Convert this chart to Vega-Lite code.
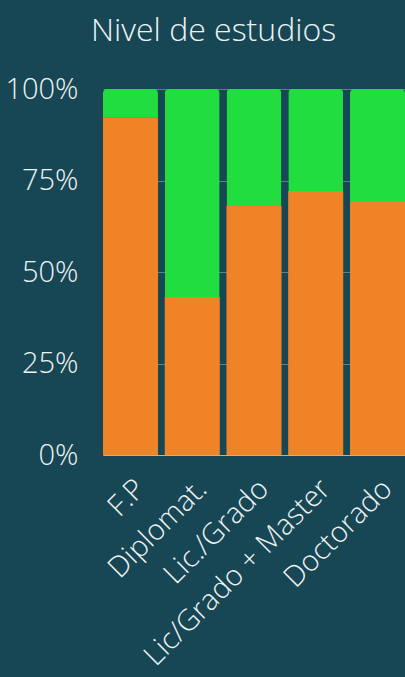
{
  "$schema": "https://vega.github.io/schema/vega-lite/v6.json",
  "autosize": "none",
  "width": 302,
  "height": 366,
  "padding": {"left": 103, "top": 89, "right": 0, "bottom": 222},
  "background": "#174654",
  "title": {
    "text": "Nivel de estudios",
    "anchor": "start",
    "frame": "group",
    "dx": -12,
    "offset": 27,
    "font": "Open Sans",
    "fontSize": 32,
    "fontWeight": 300,
    "color": "#eef3f3"
  },
  "config": {
    "view": {"stroke": null},
    "font": "Open Sans"
  },
  "data": {
    "values": [
      {"nivel": "F.P", "serie": "A", "valor": 92.2},
      {"nivel": "F.P", "serie": "B", "valor": 7.8},
      {"nivel": "Diplomat.", "serie": "A", "valor": 43.2},
      {"nivel": "Diplomat.", "serie": "B", "valor": 56.8},
      {"nivel": "Lic./Grado", "serie": "A", "valor": 68.0},
      {"nivel": "Lic./Grado", "serie": "B", "valor": 32.0},
      {"nivel": "Lic/Grado + Master", "serie": "A", "valor": 72.1},
      {"nivel": "Lic/Grado + Master", "serie": "B", "valor": 27.9},
      {"nivel": "Doctorado", "serie": "A", "valor": 69.1},
      {"nivel": "Doctorado", "serie": "B", "valor": 30.9}
    ]
  },
  "encoding": {
    "x": {
      "field": "nivel",
      "type": "nominal",
      "sort": null,
      "scale": {"paddingInner": 0.11, "paddingOuter": 0},
      "axis": {
        "title": null,
        "labelAngle": -45,
        "labelAlign": "right",
        "labelBaseline": "top",
        "labelFont": "Open Sans",
        "labelFontSize": 29,
        "labelFontWeight": 300,
        "labelColor": "#eef3f3",
        "labelPadding": 19,
        "labelLimit": 0,
        "ticks": false,
        "domain": true,
        "domainColor": "#7fc7d6",
        "domainWidth": 1,
        "labelOverlap": false,
        "labelBound": false
      }
    }
  },
  "layer": [
    {
      "mark": {"type": "bar", "cornerRadiusTopLeft": 4, "cornerRadiusTopRight": 4},
      "encoding": {
        "y": {
          "field": "valor",
          "type": "quantitative",
          "stack": "zero",
          "scale": {"domain": [0, 100]},
          "axis": {
            "title": null,
            "values": [0, 25, 50, 75, 100],
            "labelExpr": "datum.value + '%'",
            "labelFont": "Open Sans",
            "labelFontSize": 29,
            "labelFontWeight": 300,
            "labelColor": "#eef3f3",
            "labelPadding": 25,
            "ticks": false,
            "domain": false,
            "grid": true,
            "gridColor": "#5d8089",
            "gridWidth": 1
          }
        },
        "color": {
          "field": "serie",
          "type": "nominal",
          "scale": {"domain": ["A", "B"], "range": ["#f08326", "#22dd3f"]},
          "legend": null
        },
        "order": {"field": "serie", "type": "nominal", "sort": "ascending"}
      }
    },
    {
      "transform": [{"filter": "datum.serie == 'A'"}],
      "mark": {"type": "bar", "color": "#f08326"},
      "encoding": {
        "y": {"field": "valor", "type": "quantitative", "stack": "zero"}
      }
    }
  ]
}
